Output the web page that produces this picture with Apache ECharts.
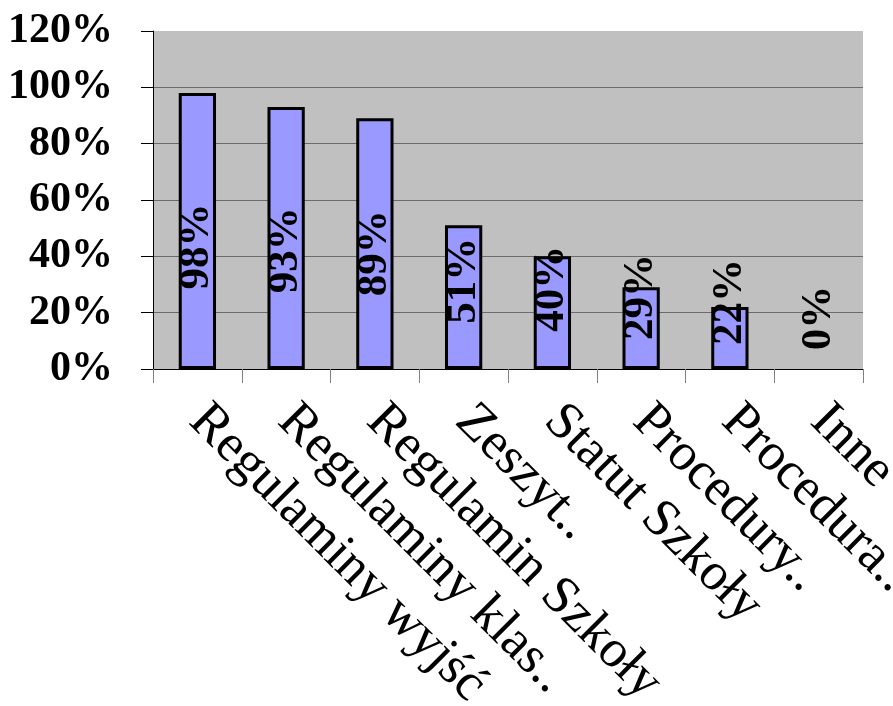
<!DOCTYPE html>
<html><head><meta charset="utf-8">
<script src="https://cdn.jsdelivr.net/npm/echarts@6/dist/echarts.min.js"></script>
<style>html,body{margin:0;padding:0;background:#fff}#c{width:893px;height:706px}</style>
</head><body><div id="c"></div>
<script>
const categories = ['Regulaminy wyjść','Regulaminy klas..','Regulamin Szkoły','Zeszyt..','Statut Szkoły','Procedury..','Procedura..','Inne'];
const values = [98, 93, 89, 51, 40, 29, 22, 0];
const yTicks = {min: 0, max: 120, interval: 20};

const font = 'Liberation Serif, "Times New Roman", serif';
const chart = echarts.init(document.getElementById('c'));
chart.setOption({
  animation: false,
  grid: {left: 153, top: 31, right: 30, bottom: 337, show: true, backgroundColor: '#C0C0C0', borderWidth: 0, containLabel: false, outerBoundsMode: 'none'},
  xAxis: {
    type: 'category', data: categories, boundaryGap: true,
    axisLine: {lineStyle: {color: '#000', width: 1}},
    axisTick: {show: true, length: 14, lineStyle: {color: '#808080'}, alignWithLabel: false},
    axisLabel: {rotate: -45, interval: 0, margin: 44, verticalAlign: 'middle', lineHeight: 42, fontFamily: font, fontSize: 53, color: '#000', hideOverlap: false}
  },
  yAxis: {
    type: 'value', min: yTicks.min, max: yTicks.max, interval: yTicks.interval,
    axisLine: {show: true, lineStyle: {color: '#000', width: 1}},
    axisTick: {show: true, length: 12, lineStyle: {color: '#000'}},
    axisLabel: {formatter: '{value}%', margin: 40, fontFamily: font, fontWeight: 'bold', fontSize: 42, color: '#000'},
    splitLine: {show: true, showMinLine: false, showMaxLine: false, lineStyle: {color: '#6b6b6b', width: 1}}
  },
  series: [{
    type: 'bar', barWidth: '42%',
    data: values.map(v => ({
      value: v,
      itemStyle: v === 0 ? {borderWidth: 0, opacity: 0} : undefined,
      label: {offset: [51 - 0.68 * v, 0], opacity: 1}
    })),
    itemStyle: {color: '#9999FF', borderColor: '#000', borderWidth: 3},
    label: {show: true, position: 'inside', rotate: 90, formatter: '{c}%', fontFamily: font, fontWeight: 'bold', fontSize: 43, color: '#000'}
  }]
});
</script></body></html>
